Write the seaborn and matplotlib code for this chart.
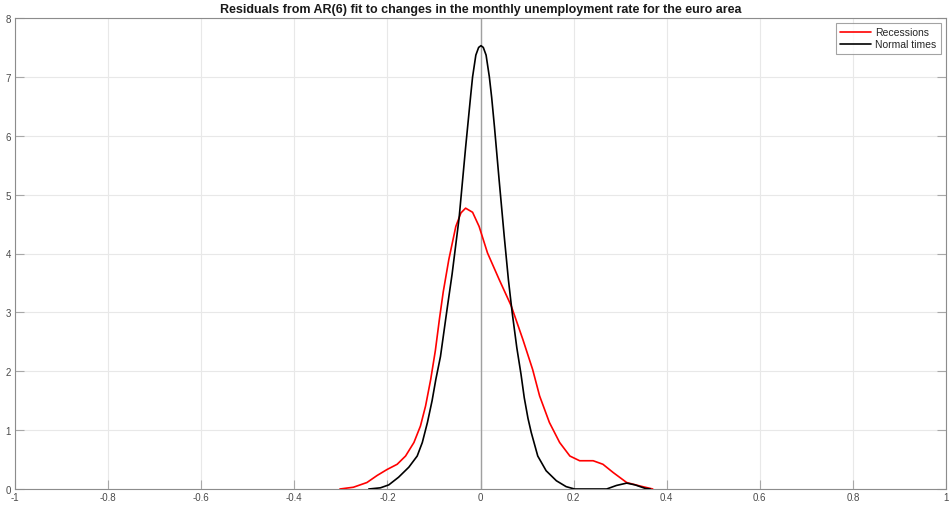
import matplotlib
matplotlib.use("Agg")
import matplotlib.pyplot as plt
import seaborn as sns
import pandas as pd

# Recessions density
rec_x = [-0.302, -0.273, -0.244, -0.222, -0.201, -0.179, -0.161, -0.143, -0.129, -0.118,
         -0.107, -0.097, -0.088, -0.080, -0.068, -0.053, -0.042, -0.032, -0.017, -0.003,
         0.015, 0.040, 0.066, 0.091, 0.112, 0.127, 0.148, 0.170, 0.192, 0.213,
         0.242, 0.263, 0.285, 0.314, 0.343, 0.370]
rec_y = [0.00, 0.03, 0.11, 0.23, 0.33, 0.42, 0.56, 0.79, 1.07, 1.41,
         1.86, 2.35, 2.90, 3.35, 3.90, 4.46, 4.69, 4.77, 4.70, 4.46,
         4.01, 3.56, 3.11, 2.54, 2.03, 1.58, 1.13, 0.79, 0.56, 0.48,
         0.48, 0.42, 0.28, 0.11, 0.05, 0.00]

# Normal times density
nor_x = [-0.240, -0.215, -0.197, -0.176, -0.154, -0.136, -0.125, -0.114, -0.104, -0.096,
         -0.086, -0.071, -0.061, -0.046, -0.032, -0.021, -0.017, -0.010, -0.004, 0.001,
         0.006, 0.012, 0.019, 0.024, 0.030, 0.040, 0.051, 0.060, 0.068, 0.078,
         0.087, 0.094, 0.102, 0.109, 0.123, 0.141, 0.163, 0.184, 0.202, 0.240,
         0.271, 0.292, 0.314, 0.332, 0.354, 0.365]
nor_y = [0.00, 0.02, 0.07, 0.20, 0.37, 0.56, 0.79, 1.13, 1.50, 1.86,
         2.25, 3.10, 3.65, 4.60, 5.80, 6.69, 7.00, 7.37, 7.50, 7.53,
         7.50, 7.37, 7.00, 6.65, 6.15, 5.25, 4.29, 3.55, 3.00, 2.40,
         1.95, 1.55, 1.20, 0.96, 0.56, 0.31, 0.14, 0.04, 0.00, 0.00,
         0.00, 0.06, 0.10, 0.07, 0.01, 0.00]

series_names = ["Recessions", "Normal times"]
title = "Residuals from AR(6) fit to changes in the monthly unemployment rate for the euro area"
x_ticks = [-1, -0.8, -0.6, -0.4, -0.2, 0, 0.2, 0.4, 0.6, 0.8, 1]
x_labels = ["-1", "-0.8", "-0.6", "-0.4", "-0.2", "0", "0.2", "0.4", "0.6", "0.8", "1"]
y_ticks = [0, 1, 2, 3, 4, 5, 6, 7, 8]

df = pd.concat([
    pd.DataFrame({"x": rec_x, "y": rec_y, "series": series_names[0]}),
    pd.DataFrame({"x": nor_x, "y": nor_y, "series": series_names[1]}),
])

sns.set_style("white")
plt.rcParams["font.family"] = ["Liberation Sans", "DejaVu Sans"]

fig = plt.figure(figsize=(9.49, 5.06), dpi=100)
ax = fig.add_axes([15 / 949, 1 - 490 / 506, 931 / 949, 471 / 506])

sns.lineplot(data=df, x="x", y="y", hue="series", sort=False, estimator=None,
             palette={"Recessions": "#ff0000", "Normal times": "#000000"},
             linewidth=1.2, ax=ax, zorder=3)

ax.axvline(0, color="#a0a0a0", linewidth=1.0, zorder=2)

ax.set_xlim(-1, 1)
ax.set_ylim(0, 8)
ax.set_xticks(x_ticks)
ax.set_xticklabels(x_labels)
ax.set_yticks(y_ticks)
ax.grid(True, color="#e8e8e8", linewidth=0.8)
ax.set_axisbelow(True)
ax.tick_params(axis="both", direction="in", length=6.5, width=0.8, color="#a8a8a8",
               labelcolor="#4a4a4a", labelsize=7, top=False, right=True,
               bottom=True, left=True, pad=3)
ax.tick_params(axis="x", pad=2)
for s in ax.spines.values():
    s.set_color("#8c8c8c")
    s.set_linewidth(0.8)
ax.set_xlabel("")
ax.set_ylabel("")
ax.set_title(title, fontsize=9, fontweight="bold", pad=4, color="#1a1a1a")

leg = ax.legend(loc="upper right", fontsize=7.5, frameon=True, fancybox=False,
                edgecolor="#8c8c8c", handlelength=3, borderaxespad=0.5,
                labelspacing=0.2, handletextpad=0.4)
leg.get_frame().set_linewidth(0.8)
leg.set_title(None)

fig.savefig("out.png", dpi=100)
